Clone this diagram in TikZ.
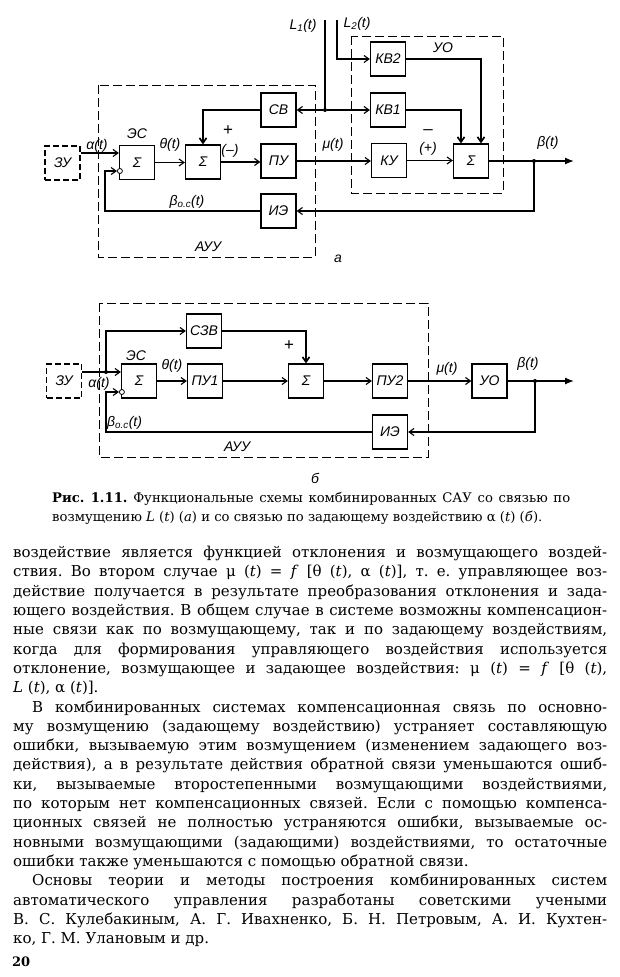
\documentclass[tikz,border=0pt]{standalone}
\usepackage{fontspec}
\setmainfont{DejaVu Serif}
\newfontfamily\schfont{Liberation Sans}
\usetikzlibrary{arrows.meta}
\frenchspacing
\newcommand{\fline}[1]{\makebox[594pt][s]{#1}}

\begin{document}
\begin{tikzpicture}[
    x=1pt, y=-1pt,
    blk/.style={draw, line width=1.2pt, minimum width=35pt, minimum height=34pt, inner sep=0pt, font=\schfont\itshape\fontsize{14}{14}\selectfont},
    ext/.style={blk, dash pattern=on 6pt off 3pt},
    frame/.style={draw, line width=1pt, dash pattern=on 9pt off 4pt},
    conn/.style={line width=1.1pt, -{Straight Barb[length=5pt, width=7pt]}},
    heavy/.style={conn, line width=1.7pt},
    outp/.style={line width=1.3pt, -{Latex[length=9pt, width=7pt]}},
    lbl/.style={inner sep=0pt, font=\schfont\itshape\fontsize{14}{14}\selectfont},
    neg/.style={draw, circle, inner sep=0pt, minimum size=5pt, fill=white, line width=0.8pt},
    jdot/.style={circle, fill, inner sep=0pt, minimum size=4pt}
]
    \fill[white] (0,0) rectangle (620,977);
    \useasboundingbox (0,0) rectangle (620,977);

    % Scheme (a): frames
    \draw[frame] (98,85) rectangle (315,257);
    \draw[frame] (351,36) rectangle (503,193);

    % Scheme (a): nodes
    \node[ext] (zuA) at (62.5,163) {ЗУ};
    \node[blk] (esA) at (137,162.5) {Σ};
    \node[blk] (sumA) at (203,162) {Σ};
    \node[blk] (cvA) at (278.5,110) {СВ};
    \node[blk] (puA) at (278.5,161) {ПУ};
    \node[blk] (ieA) at (278.5,211) {ИЭ};
    \node[blk] (kv2) at (388,59) {КВ2};
    \node[blk] (kv1) at (388,110) {КВ1};
    \node[blk] (ku) at (389,160.5) {КУ};
    \node[blk] (sumB) at (471,161) {Σ};
    \node[neg] (negA) at ([yshift=-8.5pt, xshift=1pt]esA.west) {};
    \node[jdot] (jL) at (325,110) {};
    \node[jdot] (dotA) at (534,161) {};
    \coordinate (L1top) at (325,20);
    \coordinate (L2top) at (337,20);
    \coordinate (fbA) at (105,171);
    \coordinate (outA) at (574,161);

    % Scheme (a): connections
    \draw[conn] ([yshift=10pt]zuA.east) -- ([yshift=9.5pt]esA.west);
    \draw[conn] (ieA.west) -| (fbA) -- (negA.west);
    \draw[conn] (esA.east) -- (sumA.west |- esA.east);
    \draw[heavy] (cvA.west) -| (sumA.north);
    \draw[conn] (sumA.east) -- (puA.west |- sumA.east);
    \draw[conn] (puA.east) -- (ku.west |- puA.east);
    \draw[line width=1.5pt] (L1top) -- (jL.center);
    \draw[conn] (jL) -- (cvA.east);
    \draw[conn] (jL) -- (kv1.west);
    \draw[conn] (L2top) |- (kv2.west);
    \draw[heavy] (kv1.east) -| ([xshift=-10pt]sumB.north);
    \draw[heavy] (kv2.east) -| ([xshift=10pt]sumB.north);
    \draw[conn] (ku.east) -- (sumB.west |- ku.east);
    \draw[outp] (sumB.east) -- (outA);
    \draw[conn] (dotA.center) |- (ieA.east);

    % Scheme (a): labels
    \node[lbl] at (97,146) {α(t)};
    \node[lbl] at (137,134) {ЭС};
    \node[lbl] at (170,145) {θ(t)};
    \node[lbl, font=\schfont\fontsize{17}{17}\selectfont] at (228,131) {+};
    \node[lbl] at (230,151) {(–)};
    \node[lbl] at (333,145) {μ(t)};
    \node[lbl] at (303,26) {L\textsubscript{1}(t)};
    \node[lbl] at (357,24) {L\textsubscript{2}(t)};
    \node[lbl] at (443,48) {УО};
    \node[lbl, font=\schfont\fontsize{17}{17}\selectfont] at (428,132) {–};
    \node[lbl] at (428,149) {(+)};
    \node[lbl] at (548,143) {β(t)};
    \node[lbl] at (187,202) {β\textsubscript{o.c}(t)};
    \node[lbl] at (208,247) {АУУ};
    \node[lbl] at (338,259) {а};

    % Scheme (b): frame
    \draw[frame] (99,303) rectangle (428,457);

    % Scheme (b): nodes
    \node[ext] (zuB) at (64,381) {ЗУ};
    \node[blk] (esB) at (139,381) {Σ};
    \node[blk] (czv) at (204,331) {СЗВ};
    \node[blk] (pu1) at (205,381) {ПУ1};
    \node[blk] (sumC) at (306,381) {Σ};
    \node[blk] (pu2) at (390,381) {ПУ2};
    \node[blk] (uo) at (489.5,381) {УО};
    \node[blk] (ieB) at (390,432) {ИЭ};
    \node[neg] (negB) at ([yshift=-11pt, xshift=1pt]esB.west) {};
    \node[jdot] (jA) at (106,372) {};
    \node[jdot] (dotB) at (535,381) {};
    \coordinate (fbB) at (106,392);
    \coordinate (outB) at (574,381);

    % Scheme (b): connections
    \draw[conn] ([yshift=9pt]zuB.east) -- ([yshift=9pt]esB.west);
    \draw[conn] (jA.center) |- (czv.west);
    \draw[heavy] (czv.east) -| (sumC.north);
    \draw[conn] (esB.east) -- (pu1.west);
    \draw[conn] (pu1.east) -- (sumC.west);
    \draw[conn] (sumC.east) -- (pu2.west);
    \draw[conn] (pu2.east) -- (uo.west);
    \draw[outp] (uo.east) -- (outB);
    \draw[conn] (dotB.center) |- (ieB.east);
    \draw[conn] (ieB.west) -| (fbB) -- (negB.west);

    % Scheme (b): labels
    \node[lbl] at (136,356) {ЭС};
    \node[lbl] at (172,366) {θ(t)};
    \node[lbl, font=\schfont\fontsize{17}{17}\selectfont] at (289,346) {+};
    \node[lbl] at (447,369) {μ(t)};
    \node[lbl] at (528,364) {β(t)};
    \node[lbl] at (99,384) {α(t)};
    \node[lbl, anchor=west] at (107,423) {β\textsubscript{o.c}(t)};
    \node[lbl] at (237,447) {АУУ};
    \node[lbl] at (315,478) {б};

    % Caption
    \node[anchor=north west, inner sep=0pt, align=left, font=\fontsize{13.2}{19}\selectfont] (caption) at (52,492) {\makebox[518pt][s]{\textbf{Рис. 1.11.} Функциональные схемы комбинированных САУ со связью по}\\
    возмущению \textit{L} (\textit{t}) (\textit{а}) и со связью по задающему воздействию α (\textit{t}) (\textit{б}).};

    % Body text
    \node[anchor=north west, inner sep=0pt, align=left, font=\fontsize{15}{19.3}\selectfont] (body) at (13,546) {\fline{воздействие является функцией отклонения и возмущающего воздей-}\\
    \fline{ствия. Во втором случае μ (\textit{t}) = \textit{f} [θ (\textit{t}), α (\textit{t})], т. е. управляющее воз-}\\
    \fline{действие получается в результате преобразования отклонения и зада-}\\
    \fline{ющего воздействия. В общем случае в системе возможны компенсацион-}\\
    \fline{ные связи как по возмущающему, так и по задающему воздействиям,}\\
    \fline{когда для формирования управляющего воздействия используется}\\
    \fline{отклонение, возмущающее и задающее воздействия: μ (\textit{t}) = \textit{f} [θ (\textit{t}),}\\
    \textit{L} (\textit{t}), α (\textit{t})].\\
    \fline{\hspace*{19pt}В комбинированных системах компенсационная связь по основно-}\\
    \fline{му возмущению (задающему воздействию) устраняет составляющую}\\
    \fline{ошибки, вызываемую этим возмущением (изменением задающего воз-}\\
    \fline{действия), а в результате действия обратной связи уменьшаются ошиб-}\\
    \fline{ки, вызываемые второстепенными возмущающими воздействиями,}\\
    \fline{по которым нет компенсационных связей. Если с помощью компенса-}\\
    \fline{ционных связей не полностью устраняются ошибки, вызываемые ос-}\\
    \fline{новными возмущающими (задающими) воздействиями, то остаточные}\\
    ошибки также уменьшаются с помощью обратной связи.\\
    \fline{\hspace*{19pt}Основы теории и методы построения комбинированных систем}\\
    \fline{автоматического управления разработаны советскими учеными}\\
    \fline{В. С. Кулебакиным, А. Г. Ивахненко, Б. Н. Петровым, А. И. Кухтен-}\\
    ко, Г. М. Улановым и др.};

    % Page number
    \node[anchor=west, inner sep=0pt, font=\bfseries\fontsize{13}{13}\selectfont] (pagenum) at (12,962) {20};
\end{tikzpicture}
\end{document}
